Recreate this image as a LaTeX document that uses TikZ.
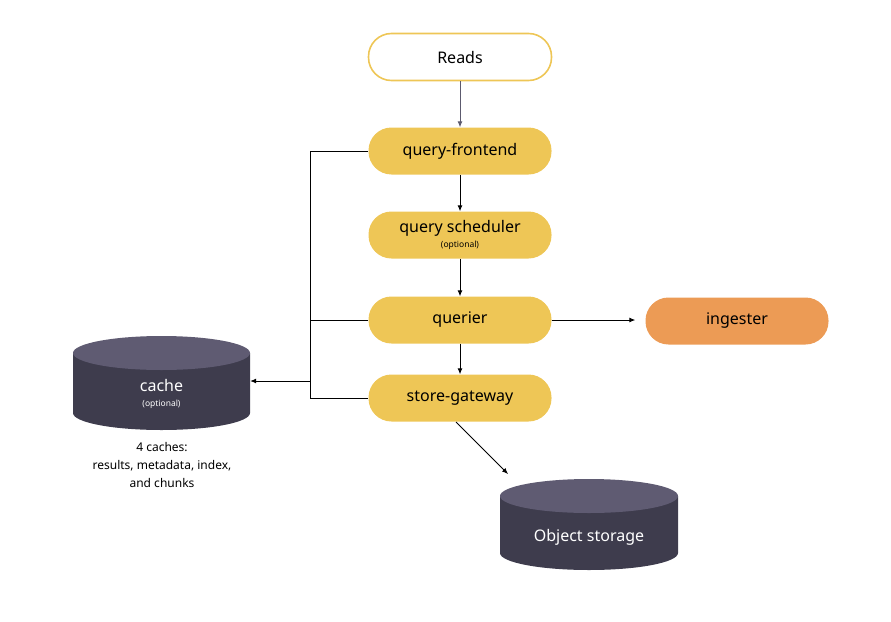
\documentclass[tikz,border=0pt]{standalone}
\usepackage{fontspec}
\setmainfont{Noto Sans}
\usetikzlibrary{arrows.meta}
\definecolor{yel}{HTML}{EEC656}
\definecolor{ora}{HTML}{EC9B55}
\definecolor{cylbody}{HTML}{3E3C4D}
\definecolor{cyltop}{HTML}{5F5B72}
\definecolor{gr}{HTML}{5C5A6E}
\begin{document}
\begin{tikzpicture}[x=1pt,y=-1pt,
  box/.style={rounded corners=23pt,minimum width=183pt,minimum height=47pt,fill=yel,font=\fontsize{16}{18}\selectfont,inner sep=0pt},
  arr/.style={-{Latex[length=6pt,width=5pt]},line width=0.9pt},
  ln/.style={line width=0.9pt}]
\useasboundingbox (0,0) rectangle (891,621);
\node[box,fill=white,draw=yel,line width=1.6pt] (reads) at (460,57) {Reads};
\node[box] (qf) at (460,151) {query-frontend};
\node[box,align=center] (qs) at (460,235) {query scheduler\\[-3pt]{\fontsize{8.5}{9}\selectfont\bfseries (optional)}};
\node[box] (q) at (460,320) {querier};
\node[box] (sg) at (460,398) {store-gateway};
\node[box,fill=ora] (ing) at (737,321) {ingester};
% cylinders
\fill[cylbody] (73,353) -- (73,413) arc[start angle=180,end angle=0,x radius=88.5,y radius=17] -- (250,353) -- cycle;
\fill[cyltop] (161.5,353) ellipse[x radius=88.5,y radius=17];
\node[text=white,align=center,font=\fontsize{16}{18}\selectfont,minimum width=177pt,minimum height=40pt] (cache) at (161.5,394) {cache\\[-3pt]{\fontsize{8.5}{9}\selectfont\bfseries (optional)}};
\fill[cylbody] (500,496) -- (500,553) arc[start angle=180,end angle=0,x radius=89,y radius=17] -- (678,496) -- cycle;
\fill[cyltop] (589,496) ellipse[x radius=89,y radius=17];
\node[text=white,font=\fontsize{16}{18}\selectfont,minimum width=178pt,minimum height=30pt] (os) at (589,537) {Object storage};
\node[align=center,font=\fontsize{12}{18}\selectfont] (note) at (162,465) {4 caches:\\results, metadata, index,\\and chunks};
% connectors
\coordinate (osin) at (508,474);
\draw[arr,gr] (reads) -- (qf);
\draw[arr] (qf) -- (qs);
\draw[arr] (qs) -- (q);
\draw[arr] (q) -- (sg);
\draw[arr] (q.east) -- ([xshift=-10pt]ing.west |- q.east);
\coordinate (j) at (310,381);
\draw[ln] (qf.west) -| (310,398) -- (sg.west);
\draw[ln] (q.west) -- (310,320);
\draw[arr] (j) -- (cache.east |- j);
\draw[arr] (456,422) -- (osin);
\end{tikzpicture}
\end{document}
